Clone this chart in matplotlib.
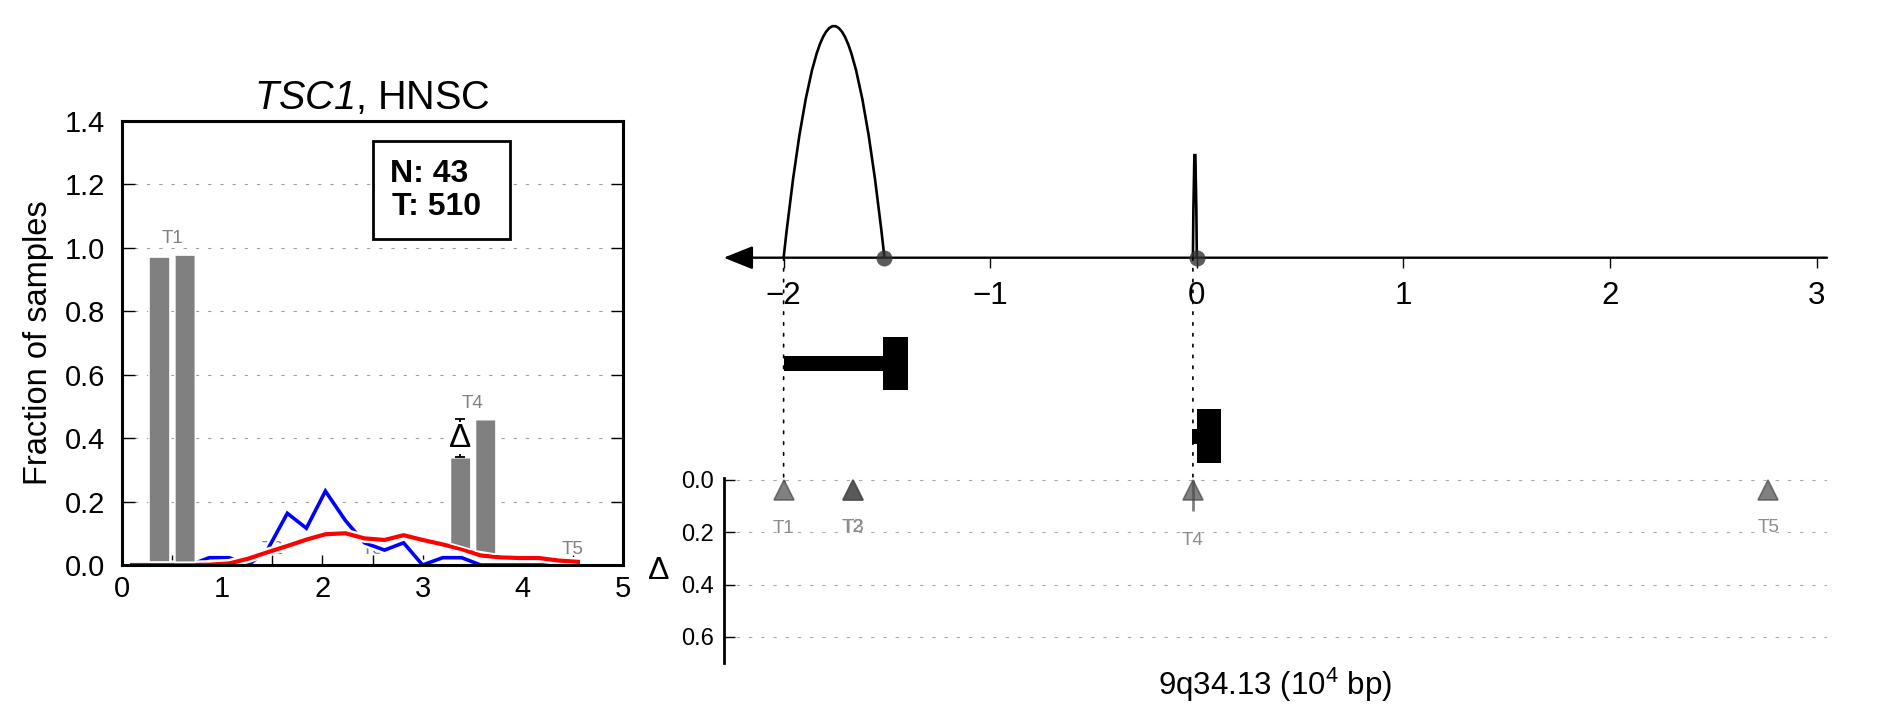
import numpy as np
import matplotlib
matplotlib.use("Agg")
import matplotlib.pyplot as plt
from matplotlib.path import Path
from matplotlib.patches import PathPatch, Rectangle, ConnectionPatch
import matplotlib.patheffects as pe
from matplotlib.transforms import offset_copy

plt.rcParams['font.family'] = ['Liberation Sans', 'DejaVu Sans']
plt.rcParams['mathtext.fontset'] = 'custom'
plt.rcParams['mathtext.rm'] = 'Liberation Sans'
plt.rcParams['mathtext.it'] = 'Liberation Sans:italic'
plt.rcParams['mathtext.sf'] = 'Liberation Sans:italic'
plt.rcParams['mathtext.bf'] = 'Liberation Sans:bold'

# ---------------- data ----------------
gene = "TSC1"
cancer = "HNSC"
n_normal = 43
n_tumor = 510

event_labels = ["T1", "T2", "T3", "T4", "T5"]
event_index = [0.5, 1.5, 2.5, 3.5, 4.5]
normal_frac = [0.972, 0.0, 0.0, 0.34, 0.0]
tumor_frac = [0.979, 0.0, 0.0, 0.46, 0.0]
event_pos = [-2.0, -1.665, -1.662, -0.019, 2.765]   # 10^4 bp

dist_x = [0.10, 0.29, 0.49, 0.68, 0.87, 1.07, 1.26, 1.45, 1.65, 1.84, 2.03, 2.23,
          2.42, 2.62, 2.81, 3.00, 3.20, 3.39, 3.58, 3.78, 3.97, 4.16, 4.36, 4.55]
blue_dist = [0, 0, 0, 0, 0.023, 0.023, 0, 0.047, 0.163, 0.116, 0.233, 0.14,
             0.07, 0.047, 0.07, 0, 0.023, 0.023, 0, 0, 0, 0, 0, 0]
red_dist = [0, 0, 0, 0, 0.001, 0.005, 0.02, 0.04, 0.06, 0.08, 0.097, 0.1,
            0.084, 0.079, 0.094, 0.079, 0.065, 0.05, 0.03, 0.024, 0.022, 0.022, 0.014, 0.01]

junction_start = [-2.0, -0.019]
junction_end = [-1.512, 0.0]
junction_height = [1.0, 0.472]

seg_row = [0, 0, 1, 1]
seg_start = [-2.0, -1.517, -0.021, 0.0]
seg_end = [-1.517, -1.399, 0.0, 0.115]
seg_kind = ["utr", "cds", "utr", "cds"]

region = "9q34.13"
top_ticks = [-2, -1, 0, 1, 2, 3]
delta_ticks = [0.0, 0.2, 0.4, 0.6]

# ---------------- figure ----------------
W, H = 1882, 718
fig = plt.figure(figsize=(W / 100, H / 100), dpi=100)


def box(l, t, r, b):
    return [l / W, 1 - b / H, (r - l) / W, (b - t) / H]


GRAY = '#808080'

# ---------- left panel ----------
ax = fig.add_axes(box(122, 121, 623, 565))
ax.set_xlim(0, 5)
ax.set_ylim(0, 1.4)
ax.set_axisbelow(True)
ax.yaxis.grid(True, color='#a0a0a0', lw=0.8, linestyle=(0, (3, 8)))
for s in ax.spines.values():
    s.set_linewidth(2.2)
ax.set_xticks(range(0, 6))
ax.set_xticks(event_index, minor=True)
ax.set_yticks(np.arange(0, 1.41, 0.2))
ax.set_yticklabels(['%.1f' % v for v in np.arange(0, 1.41, 0.2)])
ax.tick_params(axis='both', which='both', direction='in', labelsize=21, width=1)
ax.tick_params(axis='y', length=9, right=True, pad=12)
ax.tick_params(axis='x', which='both', length=7, top=False, pad=7)

stroke = lambda w: [pe.Stroke(linewidth=w, foreground='white'), pe.Normal()]
ax.plot(dist_x, blue_dist, color='#0000ff', lw=2.6, zorder=2,
        solid_joinstyle='miter', path_effects=stroke(6))
ax.plot(dist_x, red_dist, color='#ff0000', lw=3.0, zorder=2.1,
        path_effects=stroke(6.5))

bar_w, off = 0.205, 0.125
for i in range(len(event_labels)):
    for frac, dx in ((normal_frac[i], -off), (tumor_frac[i], off)):
        if frac <= 0:
            continue
        xs = np.array([event_index[i] + dx - bar_w / 2, event_index[i] + dx + bar_w / 2])
        base = np.interp(xs, dist_x, red_dist) + 0.01
        ax.fill_between(xs, base, frac, facecolor=GRAY, edgecolor='white', lw=1.2, zorder=3)
    top = max(normal_frac[i], tumor_frac[i], 0)
    ax.text(event_index[i], top + 0.035, event_labels[i], ha='center', va='baseline',
            fontsize=13.5, color=GRAY, zorder=1)
    d = tumor_frac[i] - normal_frac[i]
    if abs(d) > 0.05:
        xm = event_index[i] - off
        mid = (tumor_frac[i] + normal_frac[i]) / 2
        ax.errorbar([xm], [mid], yerr=[abs(d) / 2], fmt='none', ecolor='k', elinewidth=1.3,
                    capsize=3.8, capthick=1.3, zorder=4)
        ax.text(xm, mid, 'Δ', ha='center', va='center', fontsize=24, zorder=5,
                bbox=dict(fc='white', ec='none', pad=0.3))

ax.add_patch(Rectangle((0.501, 0.734), 0.273, 0.221, transform=ax.transAxes,
                       facecolor='white', edgecolor='black', lw=2, zorder=6))
ax.text(0.535, 0.8626, 'N: %d' % n_normal, transform=ax.transAxes, fontsize=23,
        fontweight='bold', va='baseline', ha='left', zorder=7)
ax.text(0.538, 0.788, 'T: %d' % n_tumor, transform=ax.transAxes, fontsize=23,
        fontweight='bold', va='baseline', ha='left', zorder=7)

ax.set_title(r'$\mathsf{%s}$, %s' % (gene, cancer), fontsize=28.5, pad=9)
ax.set_ylabel('Fraction of samples', fontsize=23.5, labelpad=8)

# ---------- right top: junction arcs ----------
xl = (-2.29, 3.05)
axt = fig.add_axes(box(723.7, 0, 1827, 257.7))
axt.set_xlim(*xl)
axt.set_ylim(0, 1.112)
axt.patch.set_alpha(0)
for s in axt.spines.values():
    s.set_visible(False)
axt.set_yticks([])
axt.set_xticks(top_ticks)
axt.tick_params(axis='x', direction='out', length=7, width=1, labelsize=22.5, pad=10)
axt.annotate('', xy=(0, 0), xytext=(1, 0), xycoords='axes fraction', textcoords='axes fraction',
             arrowprops=dict(arrowstyle='-|>,head_length=0.9,head_width=0.36', mutation_scale=20,
                             lw=1.7, color='k', shrinkA=0, shrinkB=0))
for s, e, h in zip(junction_start, junction_end, junction_height):
    p = Path([(s, 0), ((s + e) / 2, 2 * h), (e, 0)], [Path.MOVETO, Path.CURVE3, Path.CURVE3])
    axt.add_patch(PathPatch(p, fill=False, ec='k', lw=1.9, zorder=3))
axt.plot(junction_end, [0] * len(junction_end), 'o', color='#333333', ms=11.5, alpha=0.8,
         mew=0, zorder=5, clip_on=False)

# ---------- right middle: transcripts ----------
axg = fig.add_axes(box(723.7, 300, 1827, 480))
axg.set_xlim(*xl)
axg.set_ylim(1.605, -0.871)
axg.axis('off')
for r, s, e, k in zip(seg_row, seg_start, seg_end, seg_kind):
    h = 0.733 if k == 'cds' else 0.206
    axg.broken_barh([(s, e - s)], (r - h / 2, h), facecolors='black', edgecolor='none')

# ---------- right bottom: delta ----------
axd = fig.add_axes(box(723.7, 478, 1827, 663.1))
axd.set_xlim(*xl)
axd.set_ylim(0.7, -0.0076)
axd.patch.set_alpha(0)
for k in ('top', 'right', 'bottom'):
    axd.spines[k].set_visible(False)
axd.spines['left'].set_linewidth(2)
axd.set_xticks([])
axd.set_yticks(delta_ticks)
axd.set_yticklabels(['%.1f' % v for v in delta_ticks])
axd.tick_params(axis='y', direction='in', length=8, width=1, labelsize=17, pad=7)
axd.set_axisbelow(True)
axd.yaxis.grid(True, color='#aaaaaa', lw=0.8, linestyle=(0, (3, 8)))
axd.set_ylabel('Δ', rotation=0, fontsize=23, va='center', ha='right', labelpad=8)
axd.set_xlabel('%s (10$^{4}$ bp)' % region, fontsize=22.5, labelpad=2)

delta = [t - n for t, n in zip(tumor_frac, normal_frac)]
axd.vlines(event_pos, 0, delta, color=GRAY, lw=2, zorder=2)
tri = offset_copy(axd.transData, fig=fig, x=0, y=-7, units='points')
axd.plot(event_pos, [0] * len(event_pos), '^', ms=15, color='#4a4a4a', alpha=0.7, mew=1.2,
         transform=tri, clip_on=False, zorder=3)
for x, d, lab in zip(event_pos, delta, event_labels):
    axd.text(x, 0.15 + 0.4 * d, lab, ha='center', va='top', fontsize=13.5, color='#8c8c8c')

# dotted connectors for events with observed bars
for x, t in zip(event_pos, tumor_frac):
    if t > 0:
        con = ConnectionPatch(xyA=(x, 0), coordsA=axt.transData, xyB=(x, 0), coordsB=axd.transData,
                              linestyle=(0, (1.5, 5)), lw=1.2, color='k', zorder=4)
        fig.add_artist(con)

fig.savefig('out.png', dpi=100)
